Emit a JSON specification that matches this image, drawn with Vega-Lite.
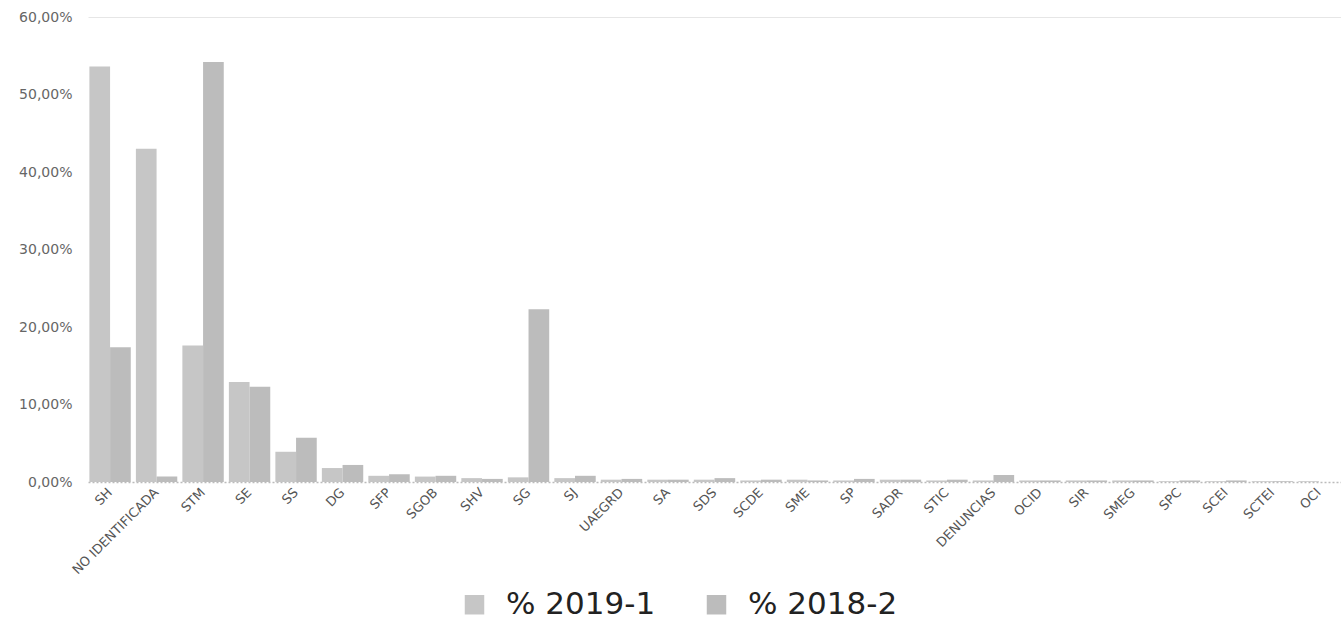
{
  "$schema": "https://vega.github.io/schema/vega-lite/v6.json",
  "autosize": {"type": "none"},
  "padding": {"left": 88, "top": 17, "right": 0, "bottom": 141},
  "width": 1253,
  "height": 465,
  "background": "white",
  "config": {"view": {"stroke": null}, "font": "DejaVu Sans"},
  "data": {"values": [
    {"cat": "SH", "serie": "% 2019-1", "v": 0.536}, {"cat": "SH", "serie": "% 2018-2", "v": 0.174},
    {"cat": "NO IDENTIFICADA", "serie": "% 2019-1", "v": 0.430}, {"cat": "NO IDENTIFICADA", "serie": "% 2018-2", "v": 0.007},
    {"cat": "STM", "serie": "% 2019-1", "v": 0.176}, {"cat": "STM", "serie": "% 2018-2", "v": 0.542},
    {"cat": "SE", "serie": "% 2019-1", "v": 0.129}, {"cat": "SE", "serie": "% 2018-2", "v": 0.123},
    {"cat": "SS", "serie": "% 2019-1", "v": 0.039}, {"cat": "SS", "serie": "% 2018-2", "v": 0.057},
    {"cat": "DG", "serie": "% 2019-1", "v": 0.018}, {"cat": "DG", "serie": "% 2018-2", "v": 0.022},
    {"cat": "SFP", "serie": "% 2019-1", "v": 0.008}, {"cat": "SFP", "serie": "% 2018-2", "v": 0.010},
    {"cat": "SGOB", "serie": "% 2019-1", "v": 0.007}, {"cat": "SGOB", "serie": "% 2018-2", "v": 0.008},
    {"cat": "SHV", "serie": "% 2019-1", "v": 0.005}, {"cat": "SHV", "serie": "% 2018-2", "v": 0.004},
    {"cat": "SG", "serie": "% 2019-1", "v": 0.006}, {"cat": "SG", "serie": "% 2018-2", "v": 0.223},
    {"cat": "SJ", "serie": "% 2019-1", "v": 0.005}, {"cat": "SJ", "serie": "% 2018-2", "v": 0.008},
    {"cat": "UAEGRD", "serie": "% 2019-1", "v": 0.003}, {"cat": "UAEGRD", "serie": "% 2018-2", "v": 0.004},
    {"cat": "SA", "serie": "% 2019-1", "v": 0.003}, {"cat": "SA", "serie": "% 2018-2", "v": 0.003},
    {"cat": "SDS", "serie": "% 2019-1", "v": 0.003}, {"cat": "SDS", "serie": "% 2018-2", "v": 0.005},
    {"cat": "SCDE", "serie": "% 2019-1", "v": 0.002}, {"cat": "SCDE", "serie": "% 2018-2", "v": 0.003},
    {"cat": "SME", "serie": "% 2019-1", "v": 0.003}, {"cat": "SME", "serie": "% 2018-2", "v": 0.002},
    {"cat": "SP", "serie": "% 2019-1", "v": 0.002}, {"cat": "SP", "serie": "% 2018-2", "v": 0.004},
    {"cat": "SADR", "serie": "% 2019-1", "v": 0.003}, {"cat": "SADR", "serie": "% 2018-2", "v": 0.003},
    {"cat": "STIC", "serie": "% 2019-1", "v": 0.002}, {"cat": "STIC", "serie": "% 2018-2", "v": 0.003},
    {"cat": "DENUNCIAS", "serie": "% 2019-1", "v": 0.002}, {"cat": "DENUNCIAS", "serie": "% 2018-2", "v": 0.009},
    {"cat": "OCID", "serie": "% 2019-1", "v": 0.002}, {"cat": "OCID", "serie": "% 2018-2", "v": 0.002},
    {"cat": "SIR", "serie": "% 2019-1", "v": 0.002}, {"cat": "SIR", "serie": "% 2018-2", "v": 0.002},
    {"cat": "SMEG", "serie": "% 2019-1", "v": 0.002}, {"cat": "SMEG", "serie": "% 2018-2", "v": 0.002},
    {"cat": "SPC", "serie": "% 2019-1", "v": 0.001}, {"cat": "SPC", "serie": "% 2018-2", "v": 0.002},
    {"cat": "SCEI", "serie": "% 2019-1", "v": 0.001}, {"cat": "SCEI", "serie": "% 2018-2", "v": 0.002},
    {"cat": "SCTEI", "serie": "% 2019-1", "v": 0.001}, {"cat": "SCTEI", "serie": "% 2018-2", "v": 0.001},
    {"cat": "OCI", "serie": "% 2019-1", "v": 0.001}, {"cat": "OCI", "serie": "% 2018-2", "v": 0.0}
  ]},
  "mark": {"type": "bar"},
  "encoding": {
    "x": {
      "field": "cat", "type": "nominal", "sort": null,
      "scale": {"paddingInner": 0.11, "paddingOuter": 0.03},
      "axis": {
        "title": null, "labelAngle": -45, "labelAlign": "right", "labelBaseline": "middle",
        "labelFontSize": 13, "labelColor": "#555555", "labelPadding": 8, "labelOverlap": false, "labelLimit": 300,
        "ticks": false, "domainColor": "#bbbbbb", "domainDash": [2, 2], "domainWidth": 1.5
      }
    },
    "xOffset": {"field": "serie", "type": "nominal", "sort": ["% 2019-1", "% 2018-2"]},
    "y": {
      "field": "v", "type": "quantitative",
      "scale": {"domain": [0, 0.6], "nice": false},
      "axis": {
        "title": null, "values": [0, 0.1, 0.2, 0.3, 0.4, 0.5, 0.6],
        "labelExpr": "replace(format(datum.value, '.2%'), '.', ',')",
        "labelFontSize": 14, "labelColor": "#666666", "labelPadding": 16,
        "ticks": false, "domain": false,
        "grid": true, "gridColor": "#e6e6e6",
        "gridOpacity": {"condition": {"test": "datum.value === 0.6", "value": 1}, "value": 0}
      }
    },
    "color": {
      "field": "serie", "type": "nominal",
      "scale": {"domain": ["% 2019-1", "% 2018-2"], "range": ["#c6c6c6", "#bcbcbc"]},
      "legend": {
        "title": null, "orient": "none", "direction": "horizontal",
        "legendX": 371, "legendY": 572,
        "symbolType": "square", "symbolSize": 380, "symbolStrokeWidth": 0,
        "labelFontSize": 31, "labelColor": "#222222", "labelFont": "DejaVu Sans",
        "labelOffset": 16, "columnPadding": 45, "labelLimit": 400
      }
    }
  }
}
